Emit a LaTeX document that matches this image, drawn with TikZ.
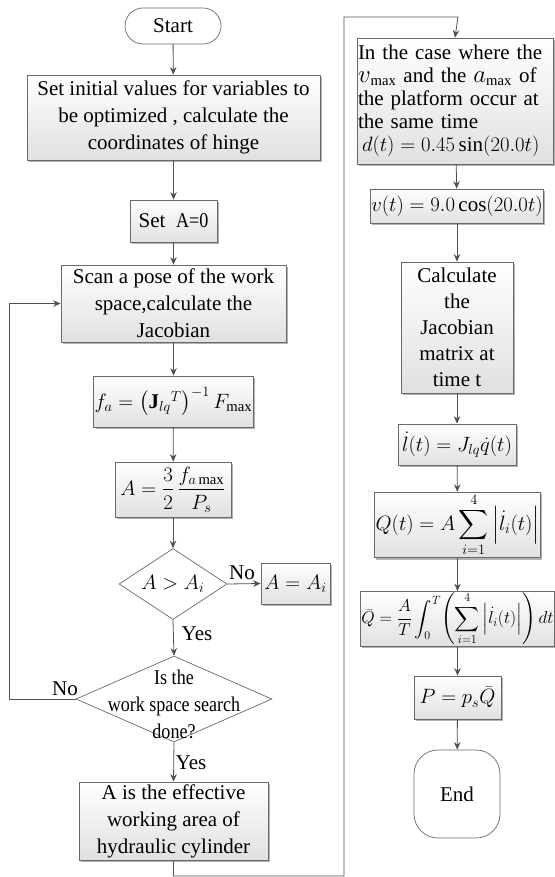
\documentclass[tikz,border=0pt]{standalone}
\usepackage{fontspec}
\setmainfont{Liberation Serif}
\newfontfamily\condfont[FakeStretch=0.86]{Liberation Serif}
\usepackage{amsmath}
\usetikzlibrary{shapes.geometric,arrows.meta,shadows}
\definecolor{ln}{HTML}{505050}
\definecolor{bd}{HTML}{6A6A6A}
\newcommand{\bigvar}[1]{{\fontsize{27}{23}\selectfont$#1$}}
\tikzset{
 base/.style={draw=bd, line width=0.7pt, inner sep=1pt, align=center, font=\fontsize{21}{27}\selectfont},
 proc/.style={base, rectangle, top color=white, bottom color=gray!24,
   drop shadow={shadow xshift=1.8pt,shadow yshift=-1.8pt,opacity=0.3,fill=black}},
 term/.style={base, rectangle, fill=white},
 dec/.style={draw=bd, line width=0.7pt, diamond, fill=white, inner sep=0pt},
 txt/.style={inner sep=0pt, align=center, font=\fontsize{21}{27}\selectfont},
 arr/.style={draw=ln, line width=0.8pt, -{Stealth[length=7.5pt,width=6.5pt]}},
 lbl/.style={inner sep=1pt, font=\fontsize{21}{24}\selectfont},
}
\begin{document}
\begin{tikzpicture}[x=1pt,y=-1pt]
\useasboundingbox (0,0) rectangle (554,877);
% left column
\node[term, rounded corners=18pt, minimum width=96pt, minimum height=36pt] (start) at (173,26) {Start};
\node[proc, minimum width=293pt, minimum height=85pt] (b1) at (173.5,117.5)
  {Set initial values for variables to\\be optimized , calculate the\\coordinates of hinge};
\node[proc, minimum width=87pt, minimum height=42pt] (seta) at (173.5,221) {Set~~{\condfont A=0}};
\node[proc, minimum width=225pt, minimum height=77pt] (scan) at (173.5,303.5)
  {Scan a pose of the work\\space,calculate the\\Jacobian};
\node[proc, minimum width=145pt, minimum height=51pt] (fa) at (173.5,401.5)
  {$f_a=\left(\mathbf{J}_{lq}{}^{T}\right)^{-1}F_{\max}$};
\node[proc, minimum width=116pt, minimum height=55pt] (aeq) at (173,489.5)
  {$A=\dfrac{3}{2}\,\dfrac{f_{a\max}}{P_s}$};
\node[dec, minimum width=108pt, minimum height=71pt] (d1) at (173,584) {};
\node[txt] (d1t) at (173,584) {$A>A_i$};
\node[proc, minimum width=69pt, minimum height=41pt] (aai) at (295.5,583.5) {$A=A_i$};
\node[dec, minimum width=196pt, minimum height=86pt] (d2) at (174,699) {};
\node[txt, font=\condfont\fontsize{21}{27}\selectfont] (d2t) at (174,704) {Is the\\work space search\\done?};
\node[proc, minimum width=189pt, minimum height=78pt] (aeff) at (173.5,821)
  {A is the effective\\working area of\\hydraulic cylinder};
% right column
\node[proc, minimum width=196pt, minimum height=126pt, align=left, text width=194pt, inner sep=0.5pt,
      font=\fontsize{21}{23}\selectfont] (r1) at (455,101)
  {In the case where the\\
   \bigvar{v}$_{\max}$ and the \bigvar{a}$_{\max}$ of\\
   the platform occur at\\
   the same time\\
   \hspace*{4pt}$d(t)=0.45\sin(20.0t)$};
\node[proc, minimum width=162pt, minimum height=34pt] (v) at (457,206) {$v(t)=9.0\cos(20.0t)$};
\node[proc, minimum width=112pt, minimum height=131pt, font=\fontsize{21}{26}\selectfont] (calc) at (457,327.5)
  {Calculate\\the\\Jacobian\\matrix at\\time t};
\node[proc, minimum width=118pt, minimum height=41pt] (ld) at (457,444.5) {$\dot{l}(t)=J_{lq}\dot{q}(t)$};
\node[proc, minimum width=151pt, minimum height=58pt] (q) at (457.5,525)
  {$Q(t)=A\displaystyle\sum_{i=1}^{4}\left|\dot{l}_i(t)\right|$};
\node[proc, minimum width=193pt, minimum height=52pt, font=\fontsize{18}{22}\selectfont] (qb) at (457.5,619)
  {$\bar{Q}=\dfrac{A}{T}\displaystyle\int_0^T\!\left(\sum_{i=1}^{4}\left|\dot{l}_i(t)\right|\right)dt$};
\node[proc, minimum width=87pt, minimum height=43pt] (p) at (457.5,697.5) {$P=p_s\bar{Q}$};
\node[term, rounded corners=24pt, minimum width=86pt, minimum height=88pt] (end) at (457,794) {End};
% connectors left
\draw[arr] (start) -- (b1);
\draw[arr] (b1) -- (seta);
\draw[arr] (seta) -- (scan);
\draw[arr] (scan) -- (fa);
\draw[arr] (fa) -- (aeq);
\draw[arr] (aeq) -- (d1);
\draw[arr] (d1.east) -- (aai.west);
\draw[arr] (d1.south) -- (d2.north);
\draw[arr] (d2.south) -- (aeff.north);
\coordinate (lp) at (9,699);
\draw[arr] (d2.west) -- (lp) |- (scan.west);
\node[lbl] (no1) at (242,573) {No};
\node[lbl] (yes1) at (197,634) {Yes};
\node[lbl] (no2) at (65,689) {No};
\node[lbl] (yes2) at (191,763) {Yes};
% link between columns
\coordinate (c1) at (173.5,876);
\coordinate (c2) at (344,876);
\coordinate (c3) at (344,17);
\coordinate (c4) at (458,17);
\draw[arr] (aeff.south) -- (c1) -- (c2) -- (c3) -- (c4) -- (r1.north);
% connectors right
\draw[arr] (r1) -- (v);
\draw[arr] (v) -- (calc);
\draw[arr] (calc) -- (ld);
\draw[arr] (ld) -- (q);
\draw[arr] (q) -- (qb);
\draw[arr] (qb) -- (p);
\draw[arr] (p) -- (end);
\end{tikzpicture}
\end{document}
